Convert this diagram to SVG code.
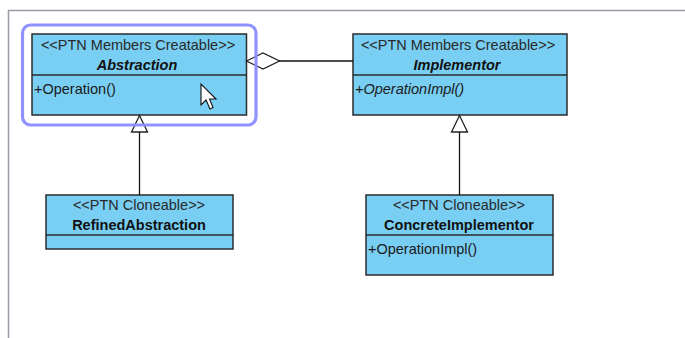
<svg xmlns="http://www.w3.org/2000/svg" width="685" height="338" viewBox="0 0 685 338">
  <style>
    .frame { stroke: #9a9aa8; stroke-width: 1.5; fill: none; }
    .cls { fill: #79cef3; stroke: #2b2b2b; stroke-width: 1.5; }
    .div { stroke: #2b2b2b; stroke-width: 1.5; }
    .st { font-family: "Liberation Sans", Arial, sans-serif; font-size: 14.5px; fill: #2a2a2a; text-anchor: middle; }
    .nm { font-family: "Liberation Sans", Arial, sans-serif; font-size: 14.5px; font-weight: bold; fill: #111; text-anchor: middle; }
    .nm.abs { font-style: italic; }
    .op { font-family: "Liberation Sans", Arial, sans-serif; font-size: 14.5px; fill: #1a1a1a; }
    .op.abs { font-style: italic; }
    .ln { stroke: #111; stroke-width: 1.3; fill: none; }
    .head { stroke: #222; stroke-width: 1.3; fill: #fff; }
    .sel { fill: none; stroke: #8a8cff; stroke-width: 3.2; opacity: 0.95; }
  </style>

  <rect width="685" height="338" fill="#fff"/>
  <!-- canvas edges -->
  <path class="frame" d="M8.5,338 V10.5 H685"/>

  <!-- class boxes -->
  <g id="abstraction">
    <rect class="cls" x="32" y="34" width="214.5" height="81"/>
    <line class="div" x1="32" y1="75" x2="246.5" y2="75"/>
    <text class="st" x="138" y="50">&lt;&lt;PTN Members Creatable&gt;&gt;</text>
    <text class="nm abs" x="137" y="70">Abstraction</text>
    <text class="op" x="34" y="94">+Operation()</text>
  </g>

  <g id="implementor">
    <rect class="cls" x="353" y="34" width="214" height="81"/>
    <line class="div" x1="353" y1="75" x2="567" y2="75"/>
    <text class="st" x="458" y="50">&lt;&lt;PTN Members Creatable&gt;&gt;</text>
    <text class="nm abs" x="457" y="70">Implementor</text>
    <text class="op abs" x="355" y="94">+OperationImpl()</text>
  </g>

  <g id="refined-abstraction">
    <rect class="cls" x="46" y="195" width="187" height="54"/>
    <line class="div" x1="46" y1="235" x2="233" y2="235"/>
    <text class="st" x="139" y="210">&lt;&lt;PTN Cloneable&gt;&gt;</text>
    <text class="nm" x="139" y="230">RefinedAbstraction</text>
  </g>

  <g id="concrete-implementor">
    <rect class="cls" x="366" y="195" width="187" height="80"/>
    <line class="div" x1="366" y1="235" x2="553" y2="235"/>
    <text class="st" x="459" y="210">&lt;&lt;PTN Cloneable&gt;&gt;</text>
    <text class="nm" x="459" y="230">ConcreteImplementor</text>
    <text class="op" x="368" y="254">+OperationImpl()</text>
  </g>

  <!-- relationships -->
  <g id="connectors">
    <!-- aggregation Abstraction -> Implementor -->
    <line class="ln" x1="279" y1="61" x2="353" y2="61"/>
    <polygon class="head" points="246.5,61 263,53 279.5,61 263,69"/>
    <!-- generalization RefinedAbstraction -> Abstraction -->
    <line class="ln" x1="139.5" y1="132" x2="139.5" y2="195"/>
    <polygon class="head" points="139.5,115.5 131.5,132 147.5,132"/>
    <!-- generalization ConcreteImplementor -> Implementor -->
    <line class="ln" x1="459.5" y1="132" x2="459.5" y2="195"/>
    <polygon class="head" points="459.5,115.5 451.5,132 467.5,132"/>
  </g>

  <!-- selection outline -->
  <rect class="sel" x="22.5" y="25" width="233.5" height="100" rx="8" ry="8"/>

  <!-- mouse pointer -->
  <path d="M201,84 L201,105 L206,100 L210,109 L213,107.5 L209.5,99 L216,99 Z" fill="#fff" stroke="#111" stroke-width="1.1" stroke-linejoin="miter"/>
</svg>
